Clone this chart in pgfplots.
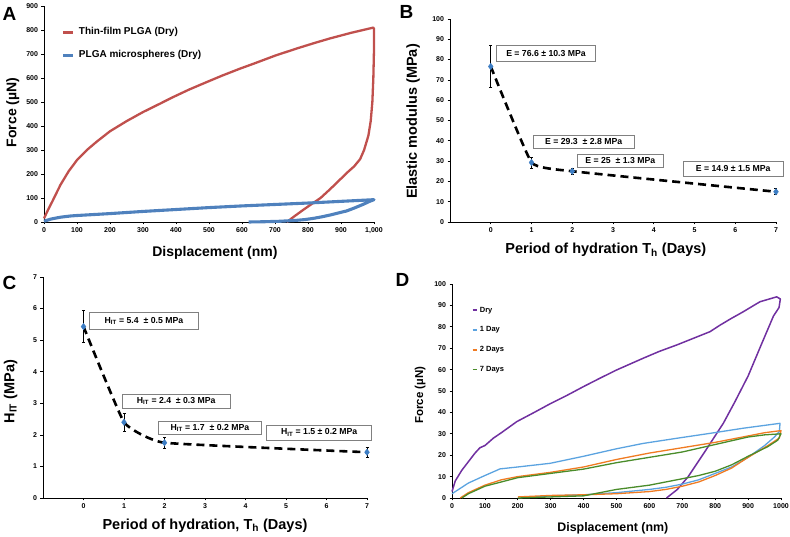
\documentclass[border=0pt]{standalone}
\usepackage{fontspec}
\setmainfont{Liberation Sans}
\usepackage{pgfplots}
\pgfplotsset{compat=1.18}
\definecolor{ared}{HTML}{C0504D}
\definecolor{ablue}{HTML}{4F81BD}
\definecolor{mblue}{HTML}{3C7DC4}
\definecolor{dpurple}{HTML}{7030A0}
\definecolor{dblue}{HTML}{5BA3E0}
\definecolor{dorange}{HTML}{F07B22}
\definecolor{dgreen}{HTML}{4A8C2A}
\pgfplotsset{
  base/.style={scale only axis, enlargelimits=false, clip=false,
    axis x line*=bottom, axis y line*=left,
    axis line style={-, line width=0.8pt, black},
    tick align=outside, major tick length=2.5pt,
    tick style={black, line width=0.7pt},
    tick label style={font=\fontsize{7}{8}\selectfont\bfseries},
    /pgf/number format/assume math mode=true,
    legend cell align=left},
  dashline/.style={black, line width=2.6pt, dash pattern=on 8pt off 5pt, smooth, tension=0.2},
  errpts/.style={only marks, mark=diamond*, mark size=3.2pt, color=mblue,
    error bars/.cd, y dir=both, y explicit,
    error bar style={black, line width=0.7pt},
    error mark options={rotate=90, mark size=1.5pt, black, line width=0.6pt}},
}
\tikzset{ann/.style={draw=gray, line width=0.8pt, fill=white, inner sep=0pt,
  font=\fontsize{8.7}{10}\selectfont\bfseries}}
\begin{document}
\begin{tikzpicture}
\useasboundingbox (0pt,0pt) rectangle (790pt,537pt);
% panel letters
\node[font=\fontsize{19}{20}\selectfont\bfseries] at (9.5pt,523.5pt) {A};
\node[font=\fontsize{19}{20}\selectfont\bfseries] at (406.5pt,525pt) {B};
\node[font=\fontsize{19}{20}\selectfont\bfseries] at (9.5pt,254.5pt) {C};
\node[font=\fontsize{19}{20}\selectfont\bfseries] at (402.5pt,257pt) {D};

% ---------------- A ----------------
\begin{axis}[base, at={(44pt,315pt)}, anchor=south west, width=330pt, height=216pt,
  xmin=0, xmax=1000, ymin=0, ymax=900,
  xtick={0,100,...,1000}, ytick={0,100,...,900},
  xlabel={Displacement (nm)}, ylabel={Force (µN)},
  label style={font=\fontsize{14}{16}\selectfont\bfseries},
  xlabel style={at={(axis description cs:0.518,-0.144)}, anchor=center},
  ylabel style={at={(axis description cs:-0.095,0.507)}, anchor=center},
  legend style={draw=none, fill=none, inner sep=0pt, outer sep=0pt,
    at={(axis description cs:0.0545,0.901)}, anchor=north west,
    font=\fontsize{10}{12}\selectfont\bfseries, row sep=13.5pt, column sep=4pt,
    nodes={inner sep=0pt, text height=7.5pt, text depth=2pt}},
  legend image code/.code={\draw[#1, line width=3pt] (0pt,0pt) -- (10pt,0pt);}]
\addplot[ared, line width=2.3pt, line join=round] coordinates {
(0,15)(12,50)(25,85)(50,155)(75,212)(100,258)(130,300)(160,335)(200,378)(250,420)(300,458)(350,492)(392,521)(440,552)(493,583)(540,610)(594,639)(640,662)(700,693)(766,723)(820,746)(867,765)(930,788)(998,810)
(1000,805)(1000,720)(998,600)(995,500)(990,420)(983,360)(970,300)(958,262)(940,232)(918,205)(898,178)(868,138)(838,100)(808,72)(785,50)(760,25)(736,0)};
\addplot[ablue, line width=3.1pt, line join=round] coordinates {
(0,3)(20,12)(50,20)(80,25)(100,27)(150,31)(200,35)(300,44)(400,52)(500,60)(600,67)(700,73)(800,79)(900,86)(1000,93)
(985,85)(968,74)(940,58)(917,46)(890,37)(867,29)(840,21)(816,15)(790,10)(766,7)(715,3)(665,1)(620,0)};
\legend{Thin-film PLGA (Dry), PLGA microspheres (Dry)}
\end{axis}

% ---------------- B ----------------
\begin{axis}[base, at={(450pt,315pt)}, anchor=south west, width=326pt, height=203pt,
  xmin=-1, xmax=7, ymin=0, ymax=100,
  xtick={0,...,7}, ytick={0,10,...,100},
  xlabel={Period of hydration T\textsubscript{h} (Days)}, ylabel={Elastic modulus (MPa)},
  label style={font=\fontsize{14.5}{16}\selectfont\bfseries},
  xlabel style={at={(axis description cs:0.478,-0.138)}, anchor=center},
  ylabel style={at={(axis description cs:-0.113,0.495)}, anchor=center}]
\addplot[dashline] coordinates {(0,76.6)(1,29.3)(2,25)(7,14.9)};
\addplot[errpts] coordinates {(0,76.6) +- (0,10.3) (1,29.3) +- (0,2.8) (2,25) +- (0,1.3) (7,14.9) +- (0,1.5)};
\node[ann, minimum width=99pt, minimum height=16.4pt] at (axis cs:1.356,83.0) {E = 76.6 ± 10.3 MPa};
\node[ann, minimum width=101pt, minimum height=13.3pt] at (axis cs:2.28,39.6) {E = 29.3 \ ± 2.8 MPa};
\node[ann, minimum width=85.6pt, minimum height=13.3pt] at (axis cs:3.18,30.2) {E = 25 \ ± 1.3 MPa};
\node[ann, minimum width=99.4pt, minimum height=14.3pt] at (axis cs:5.95,26.2) {E = 14.9 ± 1.5 MPa};
\end{axis}

% ---------------- C ----------------
\begin{axis}[base, at={(43pt,39pt)}, anchor=south west, width=324pt, height=221pt,
  xmin=-1, xmax=7, ymin=0, ymax=7,
  xtick={0,...,7}, ytick={0,...,7},
  xlabel={Period of hydration, T\textsubscript{h} (Days)}, ylabel={H\textsubscript{IT} (MPa)},
  label style={font=\fontsize{14.5}{16}\selectfont\bfseries},
  xlabel style={at={(axis description cs:0.5,-0.124)}, anchor=center},
  ylabel style={at={(axis description cs:-0.100,0.481)}, anchor=center}]
\addplot[dashline] coordinates {(0,5.43)(1,2.4)(2,1.75)(7,1.45)};
\addplot[errpts] coordinates {(0,5.43) +- (0,0.5) (1,2.4) +- (0,0.28) (2,1.75) +- (0,0.18) (7,1.45) +- (0,0.15)};
\node[ann, minimum width=108.3pt, minimum height=16.6pt] at (axis cs:1.49,5.607) {H\textsubscript{IT} = 5.4 \ ± 0.5 MPa};
\node[ann, minimum width=108pt, minimum height=14pt] at (axis cs:2.29,3.063) {H\textsubscript{IT} = 2.4 \ ± 0.3 MPa};
\node[ann, minimum width=103.4pt, minimum height=12.3pt] at (axis cs:3.12,2.22) {H\textsubscript{IT} = 1.7 \ ± 0.2 MPa};
\node[ann, minimum width=105pt, minimum height=15pt] at (axis cs:5.82,2.075) {H\textsubscript{IT} = 1.5 ± 0.2 MPa};
\end{axis}

% ---------------- D ----------------
\begin{axis}[base, at={(452pt,39pt)}, anchor=south west, width=329pt, height=214pt,
  xmin=0, xmax=1000, ymin=0, ymax=100,
  xtick={0,100,...,1000}, ytick={0,10,...,100},
  /pgf/number format/1000 sep={},
  xlabel={Displacement (nm)}, ylabel={Force (µN)},
  xlabel style={font=\fontsize{12.4}{14}\selectfont\bfseries, at={(axis description cs:0.489,-0.14)}, anchor=center},
  ylabel style={font=\fontsize{11.5}{13}\selectfont\bfseries, at={(axis description cs:-0.097,0.48)}, anchor=center},
  legend style={draw=none, fill=none, inner sep=0pt, outer sep=0pt,
    at={(axis description cs:0.06,0.894)}, anchor=north west,
    font=\fontsize{7.5}{9}\selectfont\bfseries, row sep=12.8pt, column sep=2pt,
    nodes={inner sep=0pt, text height=5.5pt, text depth=1.5pt}},
  legend image code/.code={\draw[#1, line width=1.8pt] (0pt,0pt) -- (4.3pt,0pt);}]
\addplot[dpurple, line width=1.5pt, line join=round] coordinates {
(0,3)(10,8)(30,13)(50,17)(70,21)(85,23.5)(100,24.5)(126,28)(150,30.5)(197,35.7)(250,40)(298,44)(350,48)(399,52)(450,56)(500,59.8)(581,65.3)(630,68.5)(683,71.5)(740,75)(784,77.7)(815,80.8)(850,84)(885,87)(936,91.7)(987,94)(998,93)
(994,89)(977,85)(941,72)(900,57)(860,45)(825,35)(770,22)(718,10)(685,4)(652,0)};
\addplot[dblue, line width=1.3pt, line join=round] coordinates {
(0,2)(50,7)(100,10.5)(146,13.6)(200,14.5)(298,16.2)(400,19.5)(500,23)(581,25.5)(683,27.9)(784,30.2)(885,32.6)(997,34.9)
(995,31)(980,28.5)(950,24.5)(900,19)(850,14.5)(800,11.5)(750,8.5)(700,6.5)(650,5)(600,4)(500,2.5)(400,1.5)(300,1)(250,0.5)};
\addplot[dorange, line width=1.3pt, line join=round] coordinates {
(25,0)(50,2.5)(100,6)(150,8.5)(200,10)(300,12)(400,14.5)(500,18)(600,21)(700,23.5)(800,26)(900,29)(950,30.5)(1000,31.5)
(995,28)(960,24.5)(900,19)(850,14)(800,10.5)(750,7.5)(700,5.5)(650,4)(600,3)(500,2)(400,1.5)(300,1.2)(200,0.5)};
\addplot[dgreen, line width=1.3pt, line join=round] coordinates {
(30,0)(50,2)(100,5.5)(150,7.5)(200,9.5)(300,11.5)(400,13.5)(500,16.5)(600,19)(700,21.5)(800,25)(900,28.5)(950,29.5)(1000,30)
(990,27)(960,24)(900,19.5)(850,15.5)(800,12.5)(750,10.5)(700,9)(650,7.5)(600,6)(500,4)(450,2.5)(400,1)(300,0.5)(200,0)};
\legend{Dry, 1 Day, 2 Days, 7 Days}
\end{axis}
\end{tikzpicture}
\end{document}
